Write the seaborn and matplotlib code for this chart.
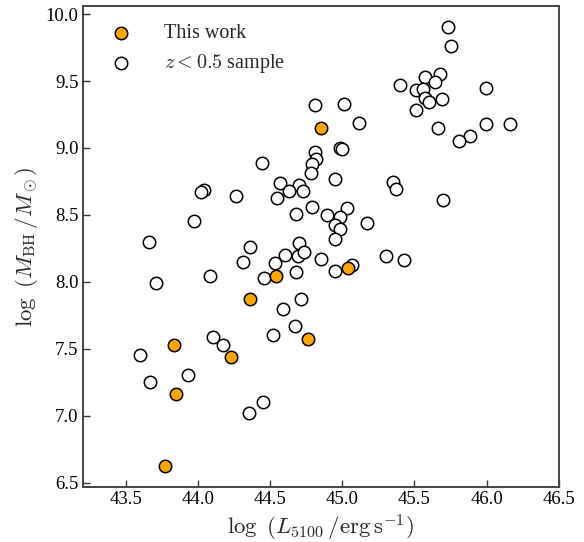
import matplotlib
matplotlib.use("Agg")
import matplotlib.pyplot as plt
import seaborn as sns
import pandas as pd

# This work
work_L = [44.85, 44.54, 44.36, 44.76, 43.835, 44.23, 43.85, 43.77, 45.04]
work_M = [9.15, 8.045, 7.87, 7.575, 7.525, 7.44, 7.16, 6.625, 8.10]

# z < 0.5 sample
samp_L = [44.81, 44.81, 44.82, 44.79, 44.78, 44.44, 44.57, 44.70, 44.63, 44.73,
          44.55, 44.04, 44.02, 44.26, 44.79, 44.68, 43.97, 43.66, 44.36, 44.70,
          45.734, 45.755, 45.40, 45.576, 45.674, 45.644, 45.51, 45.556, 45.576, 45.60,
          45.69, 45.51, 45.995, 45.01, 45.116, 45.66, 45.995, 46.16, 45.884, 45.806,
          44.984, 45.00, 44.95, 45.35, 45.375, 45.697, 44.894, 45.035, 44.984, 44.95,
          44.984, 45.17, 44.95, 44.31, 44.53, 44.60, 44.69, 44.736, 44.85, 43.71,
          44.083, 44.46, 44.68, 44.71, 44.59, 44.67, 44.52, 44.10, 44.17, 43.60,
          43.93, 43.67, 44.45, 44.35, 44.95, 45.07, 45.30, 45.426]
samp_M = [9.32, 8.972, 8.915, 8.878, 8.81, 8.89, 8.74, 8.72, 8.68, 8.68,
          8.63, 8.684, 8.67, 8.64, 8.56, 8.505, 8.455, 8.30, 8.264, 8.29,
          9.90, 9.761, 9.47, 9.527, 9.552, 9.49, 9.433, 9.443, 9.37, 9.34,
          9.363, 9.284, 9.45, 9.33, 9.189, 9.15, 9.18, 9.18, 9.09, 9.052,
          9.002, 8.99, 8.77, 8.744, 8.694, 8.612, 8.50, 8.55, 8.483, 8.423,
          8.393, 8.442, 8.32, 8.152, 8.144, 8.20, 8.194, 8.22, 8.174, 7.995,
          8.045, 8.032, 8.075, 7.873, 7.80, 7.674, 7.604, 7.587, 7.525, 7.453,
          7.306, 7.256, 7.10, 7.02, 8.085, 8.127, 8.194, 8.162]

x_ticks = [43.5, 44.0, 44.5, 45.0, 45.5, 46.0, 46.5]
y_ticks = [6.5, 7.0, 7.5, 8.0, 8.5, 9.0, 9.5, 10.0]

sns.set_theme(style="white")
plt.rcParams["font.family"] = ["Liberation Serif", "DejaVu Serif"]
plt.rcParams["mathtext.fontset"] = "cm"

fig = plt.figure(figsize=(5.84, 5.42), dpi=100)
ax = fig.add_axes([0.1416, 0.1009, 0.8151, 0.8880])

df_s = pd.DataFrame({"L": samp_L, "M": samp_M})
df_w = pd.DataFrame({"L": work_L, "M": work_M})

sns.scatterplot(data=df_s, x="L", y="M", ax=ax, s=80, facecolor="white",
                edgecolor="black", linewidth=1.1, label=r"$z < 0.5$ sample", zorder=3)
sns.scatterplot(data=df_w, x="L", y="M", ax=ax, s=80, color="#FFA500",
                edgecolor="black", linewidth=1.1, label="This work", zorder=4)

ax.set_xlim(43.2, 46.5)
ax.set_ylim(6.466, 10.06)
ax.set_xticks(x_ticks)
ax.set_yticks(y_ticks)
ax.set_xticklabels([f"{t:.1f}" for t in x_ticks])
ax.set_yticklabels([f"{t:.1f}" for t in y_ticks])
ax.tick_params(direction="in", length=5, width=1, labelsize=13.5,
               bottom=True, left=True, top=False, right=False, colors="#333333",
               labelcolor="black", pad=3)
for sp in ax.spines.values():
    sp.set_color("#444444")
    sp.set_linewidth(1.4)

ax.set_xlabel(r"$\log\ (L_{5100}\,/{\rm erg\,s^{-1}})$", fontsize=16.5, labelpad=3)
ax.set_ylabel(r"$\log\ (M_{\rm BH}\,/M_\odot)$", fontsize=16.5, labelpad=4)

h, l = ax.get_legend_handles_labels()
ax.legend([h[1], h[0]], [l[1], l[0]], loc="upper left", frameon=False,
          fontsize=14.5, handletextpad=1.15, borderaxespad=0.5, labelspacing=0.45,
          scatterpoints=1)

fig.savefig("out.png", dpi=100)
